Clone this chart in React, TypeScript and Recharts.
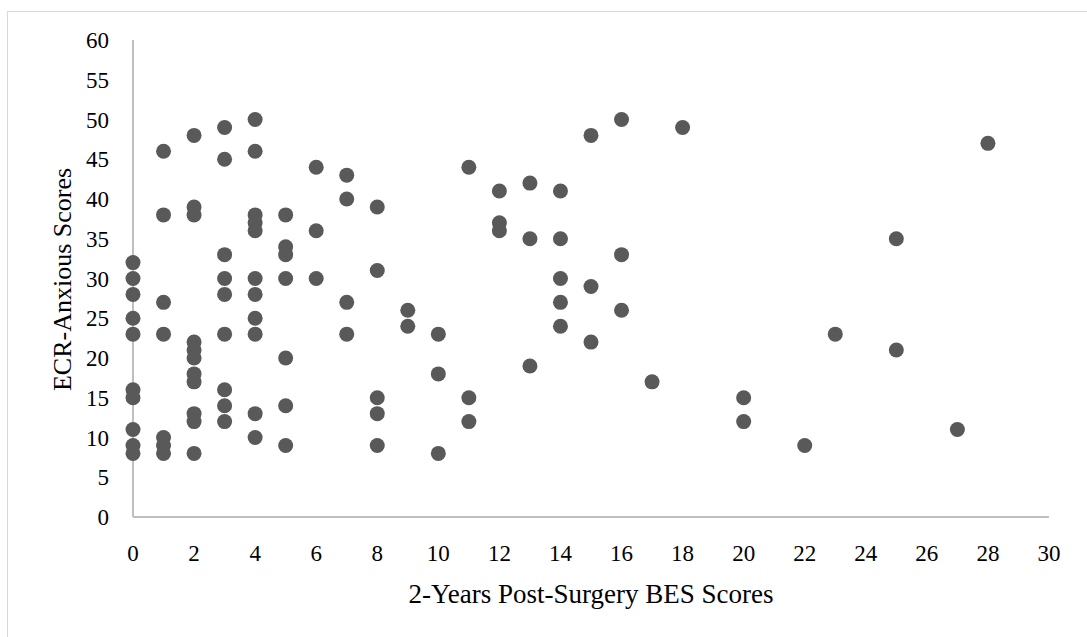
import { ScatterChart, Scatter, XAxis, YAxis, Label } from "recharts";

// 2-year post-surgery BES score for each patient
const besScores = [
  0, 0, 0, 0, 0, 0, 0, 0, 0, 0,
  1, 1, 1, 1, 1, 1, 1,
  2, 2, 2, 2, 2, 2, 2, 2, 2, 2, 2,
  3, 3, 3, 3, 3, 3, 3, 3, 3,
  4, 4, 4, 4, 4, 4, 4, 4, 4, 4, 4,
  5, 5, 5, 5, 5, 5, 5,
  6, 6, 6,
  7, 7, 7, 7,
  8, 8, 8, 8, 8,
  9, 9,
  10, 10, 10,
  11, 11, 11,
  12, 12, 12,
  13, 13, 13,
  14, 14, 14, 14, 14,
  15, 15, 15,
  16, 16, 16,
  17, 18,
  20, 20,
  22, 23,
  25, 25,
  27, 28,
];

// matching ECR-Anxious score
const ecrScores = [
  32, 30, 28, 25, 23, 16, 15, 11, 9, 8,
  46, 38, 27, 23, 10, 9, 8,
  48, 39, 38, 22, 21, 20, 18, 17, 13, 12, 8,
  49, 45, 33, 30, 28, 23, 16, 14, 12,
  50, 46, 38, 37, 36, 30, 28, 25, 23, 13, 10,
  38, 34, 33, 30, 20, 14, 9,
  44, 36, 30,
  43, 40, 27, 23,
  39, 31, 15, 13, 9,
  26, 24,
  23, 18, 8,
  44, 15, 12,
  41, 37, 36,
  42, 35, 19,
  41, 35, 30, 27, 24,
  48, 29, 22,
  50, 33, 26,
  17, 49,
  15, 12,
  9, 23,
  35, 21,
  11, 47,
];

const xTicks = [0, 2, 4, 6, 8, 10, 12, 14, 16, 18, 20, 22, 24, 26, 28, 30];
const yTicks = [0, 5, 10, 15, 20, 25, 30, 35, 40, 45, 50, 55, 60];

const points = besScores.map((x, i) => ({ x, y: ecrScores[i] }));

const font = "'Liberation Serif', 'Times New Roman', serif";
const tickStyle = { fill: "#000", fontSize: 23, fontFamily: font };

function Dot(props: any) {
  const { cx, cy } = props;
  return <circle cx={cx} cy={cy} r={7.5} fill="#595959" />;
}

function XTitle({ viewBox }: any) {
  const { x, y, width } = viewBox;
  return (
    <text x={x + width / 2} y={y + 86} textAnchor="middle" fill="#000" fontSize={27} fontFamily={font}>
      2-Years Post-Surgery BES Scores
    </text>
  );
}

function YTitle({ viewBox }: any) {
  const { y, height } = viewBox;
  const cx = 71;
  const cy = y + height / 2 + 1;
  return (
    <text
      x={cx}
      y={cy}
      transform={`rotate(-90, ${cx}, ${cy})`}
      textAnchor="middle"
      fill="#000"
      fontSize={26}
      fontFamily={font}
    >
      ECR-Anxious Scores
    </text>
  );
}

export default function App() {
  return (
    <div style={{ position: "absolute", left: 0, top: 0, width: 1087, height: 637, overflow: "hidden", background: "#fff" }}>
      <div
        style={{
          position: "absolute",
          left: 7,
          top: 11,
          width: 1100,
          height: 700,
          borderTop: "1px solid #d9d9d9",
          borderLeft: "1px solid #d9d9d9",
        }}
      />
      <div style={{ position: "absolute", left: 0, top: 0 }}>
        <ScatterChart width={1087} height={637} margin={{ top: 40, right: 38, bottom: 0, left: 73 }}>
          <XAxis
            type="number"
            dataKey="x"
            domain={[0, 30]}
            ticks={xTicks}
            interval={0}
            tick={tickStyle}
            tickLine={false}
            tickSize={0}
            tickMargin={28}
            axisLine={{ stroke: "#bfbfbf", strokeWidth: 2 }}
            height={120}
          >
            <Label content={<XTitle />} />
          </XAxis>
          <YAxis
            type="number"
            dataKey="y"
            domain={[0, 60]}
            ticks={yTicks}
            interval={0}
            tick={tickStyle}
            tickLine={false}
            tickSize={0}
            tickMargin={24}
            axisLine={{ stroke: "#bfbfbf", strokeWidth: 2 }}
            width={60}
          >
            <Label content={<YTitle />} />
          </YAxis>
          <Scatter data={points} shape={<Dot />} isAnimationActive={false} />
        </ScatterChart>
      </div>
    </div>
  );
}
